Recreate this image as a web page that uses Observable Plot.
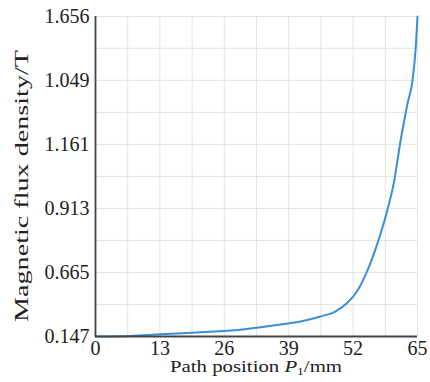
<!DOCTYPE html>
<html>
<head>
<meta charset="utf-8">
<script src="https://cdn.jsdelivr.net/npm/d3@7"></script>
<script src="https://cdn.jsdelivr.net/npm/@observablehq/plot@0.6"></script>
<style>
  html, body { margin: 0; padding: 0; background: #fff; }
  #chart svg { display: block; font-family: "Liberation Serif", "DejaVu Serif", serif; }
  #chart svg text { font-family: "Liberation Serif", "DejaVu Serif", serif; }
</style>
</head>
<body>
<div id="chart"></div>
<script>
// Path position P1 (mm)
const position = [0, 7.1, 13.1, 21.2, 29.3, 37.3, 41.4, 45.4, 48.4, 50.9, 52.9, 54.9, 56.9, 58.9, 60.2, 61.6, 63.0, 64.0, 64.6, 65];
// Magnetic flux density (T)
const fluxDensity = [0.147, 0.152, 0.165, 0.181, 0.202, 0.244, 0.268, 0.309, 0.349, 0.422, 0.519, 0.673, 0.777, 0.905, 1.010, 1.177, 1.320, 1.409, 1.525, 1.656];

const xTicks = [0, 13, 26, 39, 52, 65];
const xGrid = [0, 6.5, 13, 19.5, 26, 32.5, 39, 45.5, 52, 58.5, 65];
const yTickValues = [0.147, 0.665, 0.913, 1.161, 1.409, 1.656];
const yTickLabels = ["0.147", "0.665", "0.913", "1.161", "1.049", "1.656"];
const yGrid = [0.147, 0.406, 0.665, 0.789, 0.913, 1.037, 1.161, 1.285, 1.409, 1.533, 1.656];

const data = position.map((p, i) => ({p, b: fluxDensity[i]}));

const W = 430, H = 382;
const mL = 95, mR = 13, mT = 16, mB = 46;
const yBottom = H - mB, yTop = mT;
const step = (yBottom - yTop) / 10;

const font = "Liberation Serif, DejaVu Serif, serif";

const plot = Plot.plot({
  width: W,
  height: H,
  marginLeft: mL,
  marginRight: mR,
  marginTop: mT,
  marginBottom: mB,
  style: {fontFamily: font, fontSize: "20px", color: "#222", background: "#fff"},
  x: {domain: [0, 65], label: null},
  y: {type: "linear", domain: [0.147, 0.665, 1.656], range: [yBottom, yBottom - 2 * step, yTop], label: null},
  marks: [
    Plot.ruleX(xGrid, {stroke: "#e4e4e4", strokeWidth: 1}),
    Plot.ruleY(yGrid, {stroke: "#e4e4e4", strokeWidth: 1}),
    Plot.axisX({ticks: xTicks, tickSize: 0, tickPadding: 4, tickFormat: d => String(d), fontSize: 20, label: null}),
    Plot.axisY({ticks: yTickValues, tickSize: 0, tickPadding: 6, tickFormat: d => yTickLabels[yTickValues.indexOf(d)], fontSize: 20, label: null}),
    Plot.line(data, {x: "p", y: "b", stroke: "#3b8fd9", strokeWidth: 2, curve: "monotone-x"}),
    Plot.ruleX([0], {stroke: "#444", strokeWidth: 1.8}),
    Plot.ruleY([0.147], {stroke: "#444", strokeWidth: 1.8})
  ]
});

const svg = d3.select(plot);
svg.append("text")
  .attr("transform", `translate(28,186) rotate(-90)`)
  .attr("text-anchor", "middle")
  .attr("font-family", font)
  .attr("font-size", 18)
  .attr("textLength", 272)
  .attr("lengthAdjust", "spacingAndGlyphs")
  .attr("fill", "#222")
  .text("Magnetic flux density/T");
const xt = svg.append("text")
  .attr("x", 256)
  .attr("y", 372)
  .attr("text-anchor", "middle")
  .attr("font-family", font)
  .attr("font-size", 17)
  .attr("textLength", 172)
  .attr("lengthAdjust", "spacingAndGlyphs")
  .attr("fill", "#222");
xt.append("tspan").text("Path position ");
xt.append("tspan").attr("font-style", "italic").text("P");
xt.append("tspan").attr("font-size", 11).attr("dy", 3).text("1");
xt.append("tspan").attr("dy", -3).text("/mm");

document.getElementById("chart").appendChild(plot);
</script>
</body>
</html>
